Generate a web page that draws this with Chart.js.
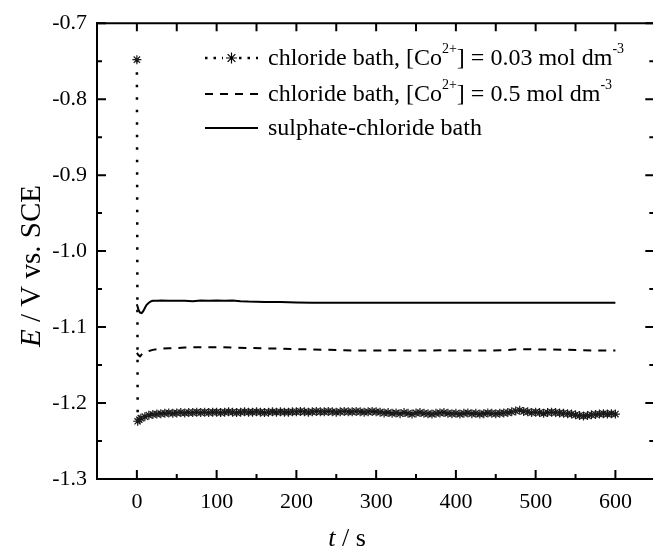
<!DOCTYPE html>
<html>
<head>
<meta charset="utf-8">
<script src="https://cdn.jsdelivr.net/npm/chart.js@4.4.1/dist/chart.umd.min.js"></script>
<style>
  html, body { margin: 0; padding: 0; background: #fff; }
  #wrap { width: 653px; height: 550px; position: relative; }
</style>
</head>
<body>
<div id="wrap"><canvas id="chart"></canvas></div>
<script>
// Potential-time transients

const xTicks = [0, 100, 200, 300, 400, 500, 600];
const yTicks = [-1.3, -1.2, -1.1, -1.0, -0.9, -0.8, -0.7];

const legendLabels = [
  [{ t: "chloride bath, [Co" }, { t: "2+", sup: true }, { t: "] = 0.03 mol dm" }, { t: "-3", sup: true }],
  [{ t: "chloride bath, [Co" }, { t: "2+", sup: true }, { t: "] = 0.5 mol dm" }, { t: "-3", sup: true }],
  [{ t: "sulphate-chloride bath" }],
];

// chloride bath, 0.03 mol dm-3 (dotted + stars)
const timeLow = [0, 1, 3, 5, 10, 15, 20, 25, 30, 35, 40, 45, 50, 55, 60, 65, 70, 75, 80, 85, 90, 95,
  100, 105, 110, 115, 120, 125, 130, 135, 140, 145, 150, 155, 160, 165, 170, 175, 180, 185, 190, 195,
  200, 205, 210, 215, 220, 225, 230, 235, 240, 245, 250, 255, 260, 265, 270, 275, 280, 285, 290, 295,
  300, 305, 310, 315, 320, 325, 330, 335, 340, 345, 350, 355, 360, 365, 370, 375, 380, 385, 390, 395,
  400, 405, 410, 415, 420, 425, 430, 435, 440, 445, 450, 455, 460, 465, 470, 475, 480, 485, 490, 495,
  500, 505, 510, 515, 520, 525, 530, 535, 540, 545, 550, 555, 560, 565, 570, 575, 580, 585, 590, 595, 600];
const eLow = [-0.748, -1.224, -1.222, -1.220, -1.218, -1.216, -1.215, -1.2145, -1.214, -1.2135, -1.213, -1.2135, -1.213, -1.2125, -1.213, -1.2125, -1.2125, -1.212, -1.2125, -1.212, -1.2125, -1.212,
  -1.212, -1.2125, -1.212, -1.2115, -1.212, -1.2125, -1.212, -1.2115, -1.212, -1.212, -1.2115, -1.212, -1.2125, -1.212, -1.2115, -1.212, -1.2115, -1.212, -1.212, -1.2115,
  -1.2115, -1.211, -1.2115, -1.212, -1.2115, -1.211, -1.2115, -1.2115, -1.211, -1.2115, -1.212, -1.2115, -1.211, -1.2115, -1.2115, -1.211, -1.2115, -1.212, -1.2115, -1.211,
  -1.2115, -1.212, -1.213, -1.2125, -1.2135, -1.213, -1.214, -1.2125, -1.2135, -1.2145, -1.213, -1.2125, -1.2135, -1.214, -1.2145, -1.2135, -1.213, -1.2125, -1.2135, -1.214,
  -1.2135, -1.2145, -1.2135, -1.213, -1.214, -1.2135, -1.2145, -1.214, -1.213, -1.2135, -1.214, -1.2135, -1.213, -1.2125, -1.2115, -1.2105, -1.2095, -1.211, -1.2115, -1.2125,
  -1.212, -1.2125, -1.2135, -1.2125, -1.212, -1.2125, -1.213, -1.2135, -1.214, -1.2145, -1.2155, -1.2165, -1.217, -1.2165, -1.2155, -1.215, -1.2145, -1.214, -1.2145, -1.214, -1.2145];

// chloride bath, 0.5 mol dm-3 (dashed)
const timeHigh = [0, 2, 4, 6, 10, 15, 20, 30, 40, 50, 60, 80, 100, 120, 140, 160, 180, 200, 220, 240, 260, 280,
  300, 320, 340, 360, 380, 400, 420, 440, 460, 480, 500, 520, 540, 560, 580, 600];
const eHigh = [-1.134, -1.137, -1.1385, -1.136, -1.1335, -1.1315, -1.130, -1.1285, -1.128, -1.1275, -1.127, -1.1265, -1.1265, -1.127, -1.1275, -1.128, -1.1285, -1.129, -1.1295, -1.130, -1.1305, -1.131,
  -1.131, -1.1305, -1.131, -1.131, -1.1305, -1.131, -1.131, -1.131, -1.1305, -1.129, -1.1295, -1.1295, -1.130, -1.1305, -1.131, -1.131];

// sulphate-chloride bath (solid)
const timeSulph = [0, 2, 4, 6, 8, 10, 12, 15, 18, 20, 25, 30, 40, 50, 60, 70, 80, 90, 100, 110, 120, 130, 140, 160, 180, 200,
  220, 260, 300, 340, 380, 420, 460, 500, 540, 580, 600];
const eSulph = [-1.070, -1.077, -1.081, -1.0815, -1.079, -1.075, -1.071, -1.068, -1.066, -1.0655, -1.0652, -1.065, -1.0652, -1.0655, -1.0655, -1.066, -1.065, -1.0655, -1.065, -1.0655, -1.065, -1.066, -1.0665, -1.067, -1.067, -1.0675,
  -1.068, -1.068, -1.068, -1.068, -1.068, -1.068, -1.068, -1.068, -1.068, -1.068, -1.068];

const FONT = "'Liberation Serif', 'Times New Roman', serif";

function pairs(xs, ys) {
  return xs.map((x, i) => ({ x: x, y: ys[i] }));
}

// Draw a run of text with superscripts, returns end x
function drawRich(ctx, parts, x, y, size) {
  parts.forEach((p) => {
    if (p.sup) {
      ctx.font = Math.round(size * 0.6) + "px " + FONT;
      ctx.fillText(p.t, x, y - size * 0.42);
    } else {
      ctx.font = size + "px " + FONT;
      ctx.fillText(p.t, x, y);
    }
    x += ctx.measureText(p.t).width;
  });
  return x;
}

// Mixed italic / roman title centred on (0, 0) of the current transform
function drawTitle(ctx, parts, size) {
  let w = 0;
  parts.forEach((p) => {
    ctx.font = (p.it ? "italic " : "") + size + "px " + FONT;
    w += ctx.measureText(p.t).width;
  });
  let cx = -w / 2;
  parts.forEach((p) => {
    ctx.font = (p.it ? "italic " : "") + size + "px " + FONT;
    ctx.fillText(p.t, cx, 0);
    cx += ctx.measureText(p.t).width;
  });
}

const framePlugin = {
  id: "frame",
  afterDraw(chart) {
    const ctx = chart.ctx;
    const a = chart.chartArea;
    const xs = chart.scales.x;
    const ys = chart.scales.y;
    const right = a.right + 7; // frame edge sits just past the canvas
    ctx.save();
    ctx.strokeStyle = "#000";
    ctx.fillStyle = "#000";
    ctx.lineWidth = 2;

    // top border
    ctx.beginPath();
    ctx.moveTo(a.left - 1, a.top);
    ctx.lineTo(right, a.top);
    ctx.stroke();

    // x ticks, major every 100 with minor halfway; top ticks every 50
    const xAll = [-50];
    xTicks.forEach((v) => { xAll.push(v, v + 50); });
    ctx.beginPath();
    xAll.forEach((v) => {
      const px = xs.getPixelForValue(v);
      const major = xTicks.includes(v);
      ctx.moveTo(px, a.bottom);
      ctx.lineTo(px, a.bottom - (major ? 9 : 5));
      ctx.moveTo(px, a.top);
      ctx.lineTo(px, a.top + 8);
    });
    // y ticks on both sides
    yTicks.forEach((v, i) => {
      const py = ys.getPixelForValue(v);
      ctx.moveTo(a.left, py);
      ctx.lineTo(a.left + 9, py);
      ctx.moveTo(right, py);
      ctx.lineTo(right - 9, py);
      if (i < yTicks.length - 1) {
        const pm = ys.getPixelForValue((v + yTicks[i + 1]) / 2);
        ctx.moveTo(a.left, pm);
        ctx.lineTo(a.left + 5, pm);
        ctx.moveTo(right, pm);
        ctx.lineTo(right - 5, pm);
      }
    });
    ctx.stroke();

    // axis titles
    ctx.textBaseline = "alphabetic";
    ctx.textAlign = "left";
    ctx.save();
    ctx.translate(347, 546);
    drawTitle(ctx, [{ t: "t", it: true }, { t: " / s" }], 26);
    ctx.restore();

    ctx.save();
    ctx.translate(40, 266);
    ctx.rotate(-Math.PI / 2);
    drawTitle(ctx, [{ t: "E", it: true }, { t: " / V vs. SCE" }], 29);
    ctx.restore();

    // legend
    const rowsY = [58, 94, 128];
    const sx0 = 205, sx1 = 258, tx = 268;
    chart.data.datasets.forEach((ds, i) => {
      const y = rowsY[i];
      ctx.save();
      ctx.lineWidth = ds.borderWidth;
      ctx.setLineDash(i === 0 ? [2.5, 6] : ds.borderDash || []);
      ctx.beginPath();
      ctx.moveTo(sx0, y);
      ctx.lineTo(sx1, y);
      ctx.stroke();
      ctx.restore();
      if (i === 0) {
        // one star marker in the sample
        ctx.save();
        ctx.fillStyle = "#fff";
        ctx.fillRect(223, y - 6, 16, 12);
        ctx.restore();
        ctx.save();
        ctx.lineWidth = 1.2;
        const r = 5.5, mx = 231.5;
        ctx.beginPath();
        for (let k = 0; k < 4; k++) {
          const ang = (k * Math.PI) / 4;
          ctx.moveTo(mx - r * Math.cos(ang), y - r * Math.sin(ang));
          ctx.lineTo(mx + r * Math.cos(ang), y + r * Math.sin(ang));
        }
        ctx.stroke();
        ctx.restore();
      }
      ctx.textBaseline = "middle";
      drawRich(ctx, legendLabels[i], tx, y + 1, 24);
    });
    ctx.restore();
  },
};

const chart = new Chart(document.getElementById("chart"), {
  type: "line",
  data: {
    datasets: [
      {
        label: "chloride bath, 0.03",
        data: pairs(timeLow, eLow),
        borderColor: "#000",
        borderWidth: 2.5,
        borderDash: [2.5, 10],
        pointStyle: "star",
        pointRadius: 4.5,
        pointBorderWidth: 1.2,
        pointBorderColor: "#1a1a1a",
        tension: 0,
      },
      {
        label: "chloride bath, 0.5",
        data: pairs(timeHigh, eHigh),
        borderColor: "#000",
        borderWidth: 2,
        borderDash: [8, 7],
        pointRadius: 0,
        tension: 0,
      },
      {
        label: "sulphate-chloride bath",
        data: pairs(timeSulph, eSulph),
        borderColor: "#000",
        borderWidth: 2,
        pointRadius: 0,
        tension: 0,
      },
    ],
  },
  options: {
    responsive: true,
    maintainAspectRatio: false,
    animation: false,
    layout: { padding: { left: 0, top: 23, right: 0, bottom: 0 } },
    plugins: {
      legend: { display: false },
      tooltip: { enabled: false },
    },
    scales: {
      x: {
        type: "linear",
        min: -50,
        max: 640,
        afterBuildTicks: (scale) => { scale.ticks = xTicks.map((v) => ({ value: v })); },
        afterFit: (scale) => { scale.height = 71; },
        grid: { display: true, drawOnChartArea: false, drawTicks: false },
        border: { display: true, color: "#000", width: 2 },
        ticks: { color: "#000", font: { family: FONT, size: 22 }, padding: 10, maxRotation: 0 },
      },
      y: {
        type: "linear",
        min: -1.3,
        max: -0.7,
        afterBuildTicks: (scale) => { scale.ticks = yTicks.map((v) => ({ value: v })); },
        afterFit: (scale) => { scale.width = 97; },
        grid: { display: true, drawOnChartArea: false, drawTicks: false },
        border: { display: true, color: "#000", width: 2 },
        ticks: {
          color: "#000",
          font: { family: FONT, size: 22 },
          padding: 10,
          callback: (v) => Number(v).toFixed(1),
        },
      },
    },
  },
  plugins: [framePlugin],
});
</script>
</body>
</html>
